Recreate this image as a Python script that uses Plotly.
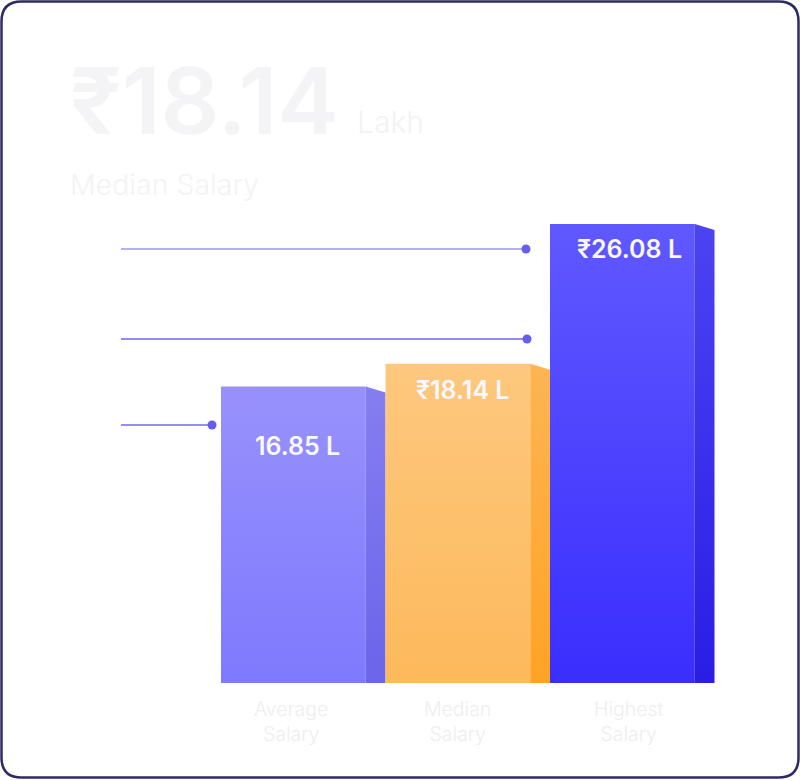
import plotly.graph_objects as go

# ---------------- data ----------------
categories = ["Average<br>Salary", "Median<br>Salary", "Highest<br>Salary"]
values = [16.85, 18.14, 26.08]
value_labels = ["16.85 L", "₹18.14 L", "₹26.08 L"]
headline_value = "₹18.14"
headline_unit = "Lakh"
headline_caption = "Median Salary"

# ---------------- style ----------------
front_top = ["#9891fc", "#fdc87e", "#6058ff"]
front_bottom = ["#7f79fe", "#fdb95b", "#3a2efe"]
side_top = ["#857ef0", "#fdb552", "#4c43f2"]
side_bottom = ["#6c64ea", "#fea325", "#2a1de6"]
label_offsets = [60, 26, 25]
label_xshift = [4, 5, 7]
cat_xshift = [-2, 0, 7]

W, H = 800, 780
BASE_PX = 683
PX_PER_UNIT = 17.6
PITCH = 164.5
LEFT = 221
FRONT = 0.88
SLOPE = 0.34
FONT = "Inter"

fig = go.Figure()

for i, v in enumerate(values):
    x0 = i - 0.5
    x1 = x0 + FRONT
    x2 = i + 0.5
    fig.add_trace(go.Scatter(
        x=[x0, x1, x1, x0, x0], y=[0, 0, v, v, 0],
        mode="lines", fill="toself",
        line=dict(width=0, color="rgba(0,0,0,0)"),
        fillgradient=dict(type="vertical", start=0, stop=v,
                          colorscale=[[0, front_bottom[i]], [1, front_top[i]]]),
        hoverinfo="skip", showlegend=False))
    fig.add_trace(go.Scatter(
        x=[x1, x2, x2, x1, x1], y=[0, 0, v - SLOPE, v, 0],
        mode="lines", fill="toself",
        line=dict(width=0, color="rgba(0,0,0,0)"),
        fillgradient=dict(type="vertical", start=0, stop=v,
                          colorscale=[[0, side_bottom[i]], [1, side_top[i]]]),
        hoverinfo="skip", showlegend=False))
    fig.add_annotation(x=x0 + FRONT / 2, y=v, xref="x", yref="y",
                       text=value_labels[i], showarrow=False,
                       yanchor="middle", yshift=-label_offsets[i], xshift=label_xshift[i],
                       font=dict(family=FONT, size=25, color="#f8f8ff", weight=600))
    fig.add_annotation(x=x0 + FRONT / 2, y=0, xref="x", yref="y",
                       text=categories[i], showarrow=False,
                       yanchor="top", yshift=-12, xshift=cat_xshift[i],
                       font=dict(family=FONT, size=19.5, color="#eeeef0", weight=300))

def px(x):
    return x / W

def py(y):
    return 1 - y / H

# headline texts
fig.add_annotation(x=px(68), y=py(101), xref="paper", yref="paper", xanchor="left",
                   yanchor="middle", text=headline_value, showarrow=False,
                   font=dict(family=FONT, size=92, color="#f4f4f6", weight=600))
fig.add_annotation(x=px(355), y=py(122), xref="paper", yref="paper", xanchor="left",
                   yanchor="middle", text=headline_unit, showarrow=False,
                   font=dict(family=FONT, size=30, color="#f2f2f4", weight=300))
fig.add_annotation(x=px(68), y=py(184), xref="paper", yref="paper", xanchor="left",
                   yanchor="middle", text=headline_caption, showarrow=False,
                   font=dict(family=FONT, size=28.5, color="#f3f3f5", weight=300))

shapes = []
# decorative guide lines with dots
guides = [(121, 526, 249, "#9a94f6"), (121, 527, 339, "#6b64e8"), (121, 212, 425, "#7069ef")]
for gx0, gx1, gy, gc in guides:
    shapes.append(dict(type="line", xref="paper", yref="paper",
                       x0=px(gx0), x1=px(gx1), y0=py(gy), y1=py(gy),
                       line=dict(color=gc, width=1.6), layer="below"))
    r = 4.5
    shapes.append(dict(type="circle", xref="paper", yref="paper",
                       x0=px(gx1 - r), x1=px(gx1 + r), y0=py(gy + r), y1=py(gy - r),
                       fillcolor="#655df0", line=dict(width=0)))

# rounded frame
fl, ft, fr, fb, rad = 1.5, 1.5, 798.5, 777.5, 20
path = (f"M {px(fl + rad)},{py(ft)} L {px(fr - rad)},{py(ft)} "
        f"Q {px(fr)},{py(ft)} {px(fr)},{py(ft + rad)} "
        f"L {px(fr)},{py(fb - rad)} Q {px(fr)},{py(fb)} {px(fr - rad)},{py(fb)} "
        f"L {px(fl + rad)},{py(fb)} Q {px(fl)},{py(fb)} {px(fl)},{py(fb - rad)} "
        f"L {px(fl)},{py(ft + rad)} Q {px(fl)},{py(ft)} {px(fl + rad)},{py(ft)} Z")
shapes.append(dict(type="path", xref="paper", yref="paper", path=path,
                   line=dict(color="#2c2b68", width=2.5)))

fig.update_layout(
    width=W, height=H,
    margin=dict(l=0, r=0, t=0, b=0),
    paper_bgcolor="white", plot_bgcolor="white",
    shapes=shapes,
    xaxis=dict(range=[-0.5 - LEFT / PITCH, -0.5 + (W - LEFT) / PITCH],
               domain=[0, 1], visible=False, fixedrange=True),
    yaxis=dict(range=[0, BASE_PX / PX_PER_UNIT],
               domain=[(H - BASE_PX) / H, 1], visible=False, fixedrange=True),
    showlegend=False,
)

fig.write_html("out.html", config={"displayModeBar": False},
               post_script="document.body.style.margin='0';document.body.style.overflow='hidden';")
